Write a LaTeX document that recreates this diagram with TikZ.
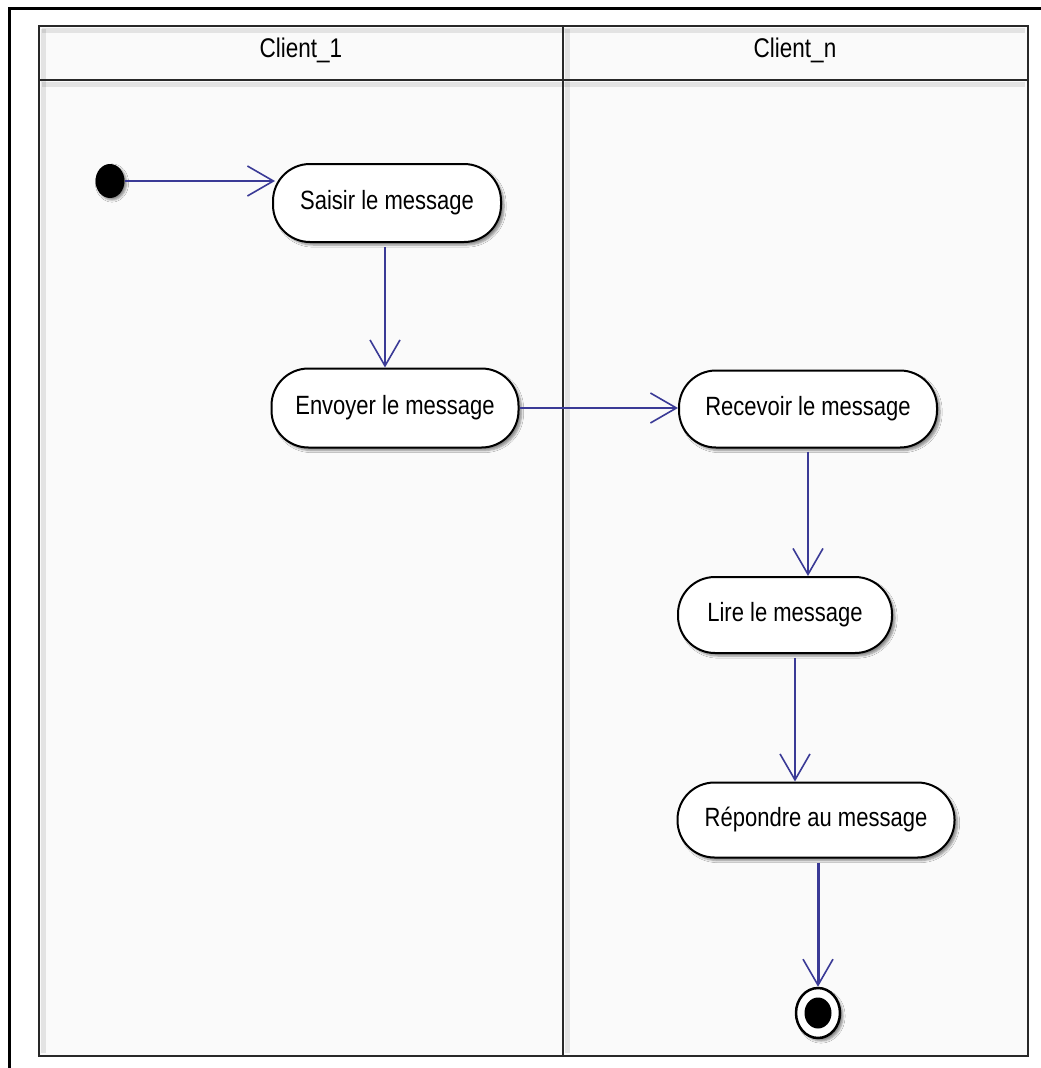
\documentclass[tikz,border=0pt]{standalone}
\usepackage{fontspec}
\setmainfont{Liberation Sans}
\usepackage{graphicx}
\usetikzlibrary{arrows.meta,shadows.blur,shapes.geometric,calc}

\definecolor{flowblue}{RGB}{58,58,150}
\definecolor{lanebg}{RGB}{250,250,250}
\definecolor{laneline}{RGB}{40,40,40}

% slightly tall sans labels
\newcommand{\lbl}[1]{\scalebox{1}[1.2]{#1}}

\begin{document}
\begin{tikzpicture}[x=1pt,y=-1pt,
  action/.style={draw=black, line width=2pt, fill=white, rounded corners=37pt,
    inner sep=0pt, font=\fontsize{22}{24}\selectfont,
    blur shadow={shadow xshift=3pt, shadow yshift=-3pt, shadow opacity=45, shadow blur steps=6}},
  flow/.style={draw=flowblue, line width=1.6pt,
    -{Straight Barb[length=26pt,width=30pt,line width=1.6pt]}},
  lane/.style={draw=laneline, line width=2.5pt},
  laneshade/.style={draw=black, opacity=0.09, line width=5pt},
  header/.style={font=\fontsize{22.5}{24}\selectfont}
]
\useasboundingbox (0,0) rectangle (1041,1068);
\fill[white] (0,0) rectangle (1041,1068);

% outer frame
\draw[line width=3pt] (9,1068) -- (9,8) -- (1041,8);

% swimlane table
\fill[lanebg] (39,26) rectangle (1028,1056);
\draw[laneshade] (42,30.5) -- (1025,30.5);
\draw[laneshade] (42,84.5) -- (1025,84.5);
\draw[laneshade] (43.5,29) -- (43.5,1053);
\draw[laneshade] (567.5,29) -- (567.5,1053);
\draw[lane] (39,26) rectangle (1028,1056);
\draw[lane] (39,80) -- (1028,80);
\draw[lane] (563,26) -- (563,1056);

\node[header] (lane1) at (301,50) {\lbl{Client\_1}};
\node[header] (lanen) at (795,50) {\lbl{Client\_n}};

% initial and final states
\node[ellipse, fill=black, minimum width=29pt, minimum height=34pt, inner sep=0pt,
  blur shadow={shadow xshift=2pt, shadow yshift=-2pt, shadow opacity=45}] (start) at (110,181) {};
\node[ellipse, draw=black, line width=2.5pt, fill=white, minimum width=44pt, minimum height=50pt,
  inner sep=0pt, blur shadow={shadow xshift=3pt, shadow yshift=-3pt, shadow opacity=45}] (stop) at (818,1013) {};
\node[ellipse, fill=black, minimum width=27pt, minimum height=31pt, inner sep=0pt] (stopdot) at (stop) {};

% actions
\node[action, minimum width=228pt, minimum height=78pt] (saisir) at (387,203) {\lbl{Saisir le message}};
\node[action, minimum width=247pt, minimum height=79pt] (envoyer) at (395,408) {\lbl{Envoyer le message}};
\node[action, minimum width=258pt, minimum height=77pt] (recevoir) at (808,409) {\lbl{Recevoir le message}};
\node[action, minimum width=214pt, minimum height=76pt] (lire) at (785,615) {\lbl{Lire le message}};
\node[action, minimum width=277pt, minimum height=75pt] (repondre) at (816,820) {\lbl{Répondre au message}};

% control flows
\draw[flow] (start.east) -- ([xshift=3pt]start.east -| saisir.west);
\draw[flow] ([xshift=-2pt,yshift=-4pt]saisir.south) -- ([xshift=-2pt]saisir.south |- envoyer.north);
\draw[flow] (envoyer.east) -- (envoyer.east -| recevoir.west);
\draw[flow] ([yshift=-3pt]recevoir.south) -- (recevoir.south |- lire.north);
\draw[flow] ([xshift=10pt,yshift=-4pt]lire.south) -- ([xshift=10pt]lire.south |- repondre.north);
\draw[flow, line width=3pt] ([xshift=2pt,yshift=-4pt]repondre.south) -- (stop.north);
\end{tikzpicture}
\end{document}
